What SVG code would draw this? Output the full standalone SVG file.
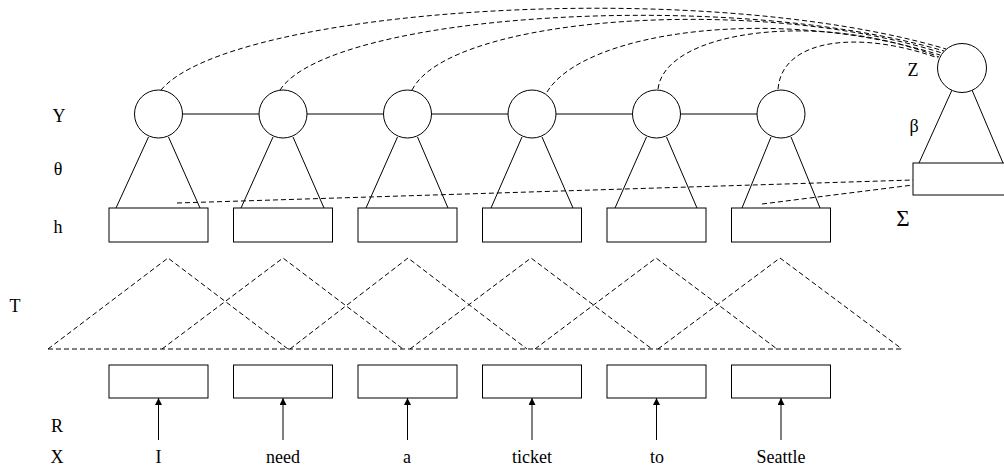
<svg xmlns="http://www.w3.org/2000/svg" width="1004" height="468" viewBox="0 0 1004 468">
<defs>
<style>
.n{fill:#fff;stroke:#000;stroke-width:1}
.s{fill:none;stroke:#000;stroke-width:1}
.d{fill:none;stroke:#000;stroke-width:1;stroke-dasharray:5,3}
.t{font-family:'Liberation Serif','DejaVu Serif',serif;font-size:18px;fill:#000;text-anchor:middle}
</style>
<marker id="ah" markerUnits="userSpaceOnUse" markerWidth="7" markerHeight="8" refX="7" refY="3.5" orient="auto">
<path d="M0,0 L7,3.5 L0,7 z" fill="#000"/>
</marker>
</defs>
<rect width="1004" height="468" fill="#fff"/>

<g id="labels" font-family="Liberation Serif, serif">
<text class="t" x="59" y="122">Y</text>
<text class="t" x="58" y="175">θ</text>
<text class="t" x="58" y="233">h</text>
<text class="t" x="15" y="312">T</text>
<text class="t" x="57" y="432">R</text>
<text class="t" x="57" y="463">X</text>
<text class="t" x="913" y="76">Z</text>
<text class="t" x="914" y="132">β</text>
<text class="t" x="903" y="226" style="font-size:23px">Σ</text>
</g>

<g id="connectors">
<line class="s" x1="182.5" y1="114" x2="259" y2="114"/>
<line class="s" x1="307" y1="114" x2="383.5" y2="114"/>
<line class="s" x1="431.5" y1="114" x2="508" y2="114"/>
<line class="s" x1="556" y1="114" x2="632.5" y2="114"/>
<line class="s" x1="680.5" y1="114" x2="757" y2="114"/>
<path class="s" d="M148.5,137 L116,208 M168.5,137 L200,208"/>
<path class="s" d="M273,137 L241,208 M293,137 L324,208"/>
<path class="s" d="M397.5,137 L366,208 M417.5,137 L448,208"/>
<path class="s" d="M522,137 L491,208 M542,137 L573,208"/>
<path class="s" d="M646.5,137 L615,208 M666.5,137 L697,208"/>
<path class="s" d="M771,137 L742,208 M791,137 L820,208"/>
<path class="s" d="M952,90 L919,163 M972,90 L1003,163"/>
<path class="d" d="M161,90 C230,8 700,-24 946,49"/>
<path class="d" d="M280,90 C330,13 730,-12 944,51"/>
<path class="d" d="M412,90 C450,15 760,-5 942,53"/>
<path class="d" d="M547,92 C585,30 780,5 940,55"/>
<path class="d" d="M658,89 C665,30 820,10 939,57"/>
<path class="d" d="M778,89 C782,38 860,30 938,58"/>
<line class="d" x1="177" y1="203" x2="913" y2="180"/>
<line class="d" x1="762" y1="204" x2="913" y2="185"/>
<line class="d" x1="48" y1="349" x2="902" y2="349"/>
<path class="d" d="M48,349 L168,258 L288,349"/>
<path class="d" d="M162,349 L283,258 L403,349"/>
<path class="d" d="M290,349 L408,258 L527,349"/>
<path class="d" d="M410,349 L531,258 L652,349"/>
<path class="d" d="M535,349 L656,258 L777,349"/>
<path class="d" d="M658,349 L780,258 L902,349"/>
<line class="s" x1="158.5" y1="440" x2="158.5" y2="398" marker-end="url(#ah)"/>
<line class="s" x1="283" y1="440" x2="283" y2="398" marker-end="url(#ah)"/>
<line class="s" x1="407.5" y1="440" x2="407.5" y2="398" marker-end="url(#ah)"/>
<line class="s" x1="532" y1="440" x2="532" y2="398" marker-end="url(#ah)"/>
<line class="s" x1="656.5" y1="440" x2="656.5" y2="398" marker-end="url(#ah)"/>
<line class="s" x1="781" y1="440" x2="781" y2="398" marker-end="url(#ah)"/>
</g>

<g id="Y1"><circle class="n" cx="158.5" cy="114" r="24"/></g>
<g id="Y2"><circle class="n" cx="283" cy="114" r="24"/></g>
<g id="Y3"><circle class="n" cx="407.5" cy="114" r="24"/></g>
<g id="Y4"><circle class="n" cx="532" cy="114" r="24"/></g>
<g id="Y5"><circle class="n" cx="656.5" cy="114" r="24"/></g>
<g id="Y6"><circle class="n" cx="781" cy="114" r="24"/></g>
<g id="Z"><circle class="n" cx="962" cy="68" r="24.5"/></g>
<g id="Sigma"><rect class="n" x="913" y="163" width="100" height="32"/></g>

<g id="h1"><rect class="n" x="109" y="208" width="99" height="34"/></g>
<g id="h2"><rect class="n" x="233.5" y="208" width="99" height="34"/></g>
<g id="h3"><rect class="n" x="358" y="208" width="99" height="34"/></g>
<g id="h4"><rect class="n" x="482.5" y="208" width="99" height="34"/></g>
<g id="h5"><rect class="n" x="607" y="208" width="99" height="34"/></g>
<g id="h6"><rect class="n" x="731.5" y="208" width="99" height="34"/></g>

<g id="R1"><rect class="n" x="109" y="365" width="99" height="33"/></g>
<g id="R2"><rect class="n" x="233.5" y="365" width="99" height="33"/></g>
<g id="R3"><rect class="n" x="358" y="365" width="99" height="33"/></g>
<g id="R4"><rect class="n" x="482.5" y="365" width="99" height="33"/></g>
<g id="R5"><rect class="n" x="607" y="365" width="99" height="33"/></g>
<g id="R6"><rect class="n" x="731.5" y="365" width="99" height="33"/></g>

<g id="words">
<text class="t" x="158.5" y="463">I</text>
<text class="t" x="283" y="463">need</text>
<text class="t" x="407" y="463">a</text>
<text class="t" x="532" y="463">ticket</text>
<text class="t" x="657" y="463">to</text>
<text class="t" x="781" y="463">Seattle</text>
</g>
</svg>
